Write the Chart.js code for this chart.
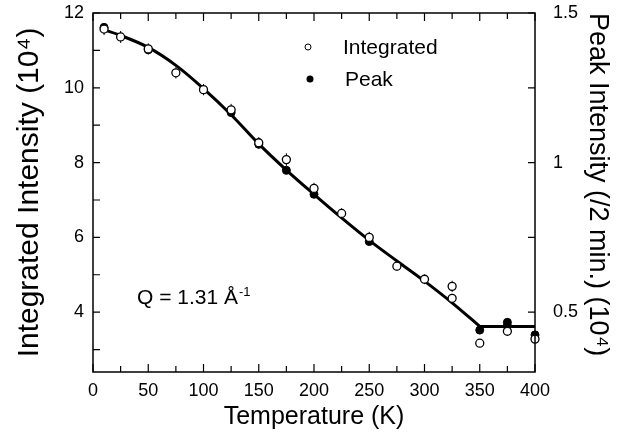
<!DOCTYPE html>
<html>
<head>
<meta charset="utf-8">
<script src="https://cdn.jsdelivr.net/npm/chart.js@4.4.1/dist/chart.umd.min.js"></script>
<style>
  html, body { margin: 0; padding: 0; background: #fff; }
  #wrap { width: 641px; height: 441px; }
</style>
</head>
<body>
<div id="wrap"><canvas id="chart" width="641" height="441"></canvas></div>
<script>
// integrated intensity (open circles), units of 10^4
const intTemps = [10, 25, 50, 75, 100, 125, 150, 175, 200, 225, 250, 275, 300, 325, 325, 350, 375, 400];
const intValues = [11.57, 11.36, 11.04, 10.4, 9.95, 9.41, 8.53, 8.08, 7.31, 6.64, 6.0, 5.23, 4.88, 4.69, 4.37, 3.17, 3.49, 3.28];
const intErrors = [0.16, 0.16, 0.15, 0.15, 0.15, 0.16, 0.15, 0.17, 0.15, 0.14, 0.15, 0.12, 0.13, 0.15, 0.12, 0.1, 0.1, 0.1];

// peak intensity (filled circles), units of 10^4 per 2 min
const peakTemps = [10, 50, 125, 150, 175, 200, 250, 350, 375, 375, 400];
const peakValues = [1.452, 1.377, 1.167, 1.061, 0.974, 0.894, 0.736, 0.44, 0.466, 0.454, 0.424];

// guide line through the data
const fitTemps = [10, 25, 50, 75, 100, 125, 150, 175, 200, 225, 250, 275, 300, 325, 350];
const fitValues = [11.55, 11.4, 11.08, 10.6, 9.98, 9.28, 8.5, 7.8, 7.15, 6.52, 5.92, 5.37, 4.83, 4.25, 3.62];
const flatTemps = [350, 400];
const flatValues = [3.62, 3.62];

const xTicks = [0, 50, 100, 150, 200, 250, 300, 350, 400];
const yTicks = [4, 6, 8, 10, 12];
const y2Ticks = [0.5, 1, 1.5];

const FONT = "'Liberation Sans', Arial, Helvetica, sans-serif";

function pts(xs, ys) {
    return xs.map((x, i) => ({ x: x, y: ys[i] }));
}

// inward tick marks, box frame, error bars, legend and Q label
const decorations = {
    id: 'decorations',
    beforeDatasetsDraw(chart) {
        const ctx = chart.ctx;
        const x = chart.scales.x, y = chart.scales.y;
        const ds = chart.data.datasets[0];
        ctx.save();
        ctx.strokeStyle = '#000';
        ctx.lineWidth = 1;
        ds.data.forEach((p, i) => {
            const px = x.getPixelForValue(p.x);
            ctx.beginPath();
            ctx.moveTo(px, y.getPixelForValue(p.y + intErrors[i]));
            ctx.lineTo(px, y.getPixelForValue(p.y - intErrors[i]));
            ctx.stroke();
        });
        ctx.restore();
    },
    afterDraw(chart) {
        const ctx = chart.ctx;
        const a = chart.chartArea;
        const x = chart.scales.x, y = chart.scales.y, y2 = chart.scales.y2;
        ctx.save();
        ctx.strokeStyle = '#000';
        ctx.lineWidth = 1.5;
        ctx.strokeRect(a.left, a.top, a.right - a.left, a.bottom - a.top);

        ctx.lineWidth = 1.2;
        ctx.beginPath();
        x.ticks.forEach(t => {
            const px = x.getPixelForValue(t.value);
            const len = t.value % 50 === 0 ? 8 : 6;
            ctx.moveTo(px, a.bottom); ctx.lineTo(px, a.bottom - len);
            ctx.moveTo(px, a.top); ctx.lineTo(px, a.top + len);
        });
        y.ticks.forEach(t => {
            if (Math.abs(t.value - Math.round(t.value)) > 1e-6) return;
            const py = y.getPixelForValue(t.value);
            ctx.moveTo(a.left, py); ctx.lineTo(a.left + 7, py);
        });
        y2.ticks.forEach(t => {
            if (Math.abs(t.value * 4 - Math.round(t.value * 4)) > 1e-6) return;
            const py = y2.getPixelForValue(t.value);
            ctx.moveTo(a.right, py); ctx.lineTo(a.right - 7, py);
        });
        ctx.stroke();

        // legend
        ctx.fillStyle = '#000';
        ctx.font = '21px ' + FONT;
        ctx.textBaseline = 'middle';
        ctx.textAlign = 'left';
        const lx = a.left + 215;
        ctx.beginPath();
        ctx.arc(lx, a.top + 34, 3, 0, Math.PI * 2);
        ctx.fillStyle = '#fff';
        ctx.fill();
        ctx.lineWidth = 1;
        ctx.stroke();
        ctx.fillStyle = '#000';
        ctx.beginPath();
        ctx.arc(lx + 2, a.top + 66, 3.5, 0, Math.PI * 2);
        ctx.fill();
        ctx.fillText('Integrated', lx + 35, a.top + 35);
        ctx.fillText('Peak', lx + 37, a.top + 67);

        // Q label
        ctx.font = '21px ' + FONT;
        ctx.fillText('Q = 1.31 \u00C5', a.left + 44, a.top + 285);
        const qw = ctx.measureText('Q = 1.31 \u00C5').width;
        ctx.font = '13px ' + FONT;
        ctx.fillText('-1', a.left + 45 + qw, a.top + 279);
        ctx.restore();
    }
};

function fixV(w) {
    return s => { s.width = w; s.paddingTop = 0; s.paddingBottom = 0; };
}

new Chart(document.getElementById('chart'), {
    type: 'scatter',
    data: {
        datasets: [
            {
                label: 'Integrated',
                data: pts(intTemps, intValues),
                yAxisID: 'y',
                pointStyle: 'circle',
                pointRadius: 4,
                pointBackgroundColor: '#fff',
                pointBorderColor: '#000',
                pointBorderWidth: 1.3,
                showLine: false,
                clip: false
            },
            {
                label: 'Peak',
                data: pts(peakTemps, peakValues),
                yAxisID: 'y2',
                pointStyle: 'circle',
                pointRadius: 4,
                pointBackgroundColor: '#000',
                pointBorderColor: '#000',
                pointBorderWidth: 1,
                showLine: false,
                clip: false
            },
            {
                label: 'fit',
                data: pts(fitTemps, fitValues),
                yAxisID: 'y',
                showLine: true,
                borderColor: '#000',
                borderWidth: 3,
                pointRadius: 0,
                cubicInterpolationMode: 'monotone'
            },
            {
                label: 'flat',
                data: pts(flatTemps, flatValues),
                yAxisID: 'y',
                showLine: true,
                borderColor: '#000',
                borderWidth: 3,
                pointRadius: 0
            }
        ]
    },
    options: {
        responsive: false,
        animation: false,
        devicePixelRatio: 1,
        layout: { padding: { top: 13, left: 0, right: 0, bottom: 0 } },
        plugins: {
            legend: { display: false },
            tooltip: { enabled: false }
        },
        scales: {
            x: {
                type: 'linear',
                position: 'bottom',
                min: 0,
                max: 400,
                grid: { display: false, drawTicks: false },
                border: { display: false },
                afterFit: s => { s.height = 69; s.paddingLeft = 0; s.paddingRight = 0; },
                ticks: {
                    stepSize: 25,
                    autoSkip: false,
                    maxRotation: 0,
                    padding: 8,
                    color: '#000',
                    font: { family: FONT, size: 18 },
                    callback: v => xTicks.includes(v) ? String(v) : ''
                },
                title: {
                    display: true,
                    text: 'Temperature (K)',
                    color: '#000',
                    font: { family: FONT, size: 25 },
                    padding: { top: 0, bottom: 9 }
                }
            },
            y: {
                type: 'linear',
                position: 'left',
                min: 2.4,
                max: 12,
                grid: { display: false, drawTicks: false },
                border: { display: false },
                afterFit: fixV(93),
                ticks: {
                    stepSize: 1,
                    autoSkip: false,
                    padding: 9,
                    color: '#000',
                    font: { family: FONT, size: 18 },
                    callback: v => yTicks.includes(v) ? String(v) : ''
                },
                title: {
                    display: true,
                    text: 'Integrated Intensity (10\u2074)',
                    color: '#000',
                    font: { family: FONT, size: 30 },
                    padding: { top: 12, bottom: 0 }
                }
            },
            y2: {
                type: 'linear',
                position: 'right',
                min: 0.3,
                max: 1.5,
                grid: { display: false, drawTicks: false },
                border: { display: false },
                afterFit: fixV(106),
                ticks: {
                    stepSize: 0.25,
                    autoSkip: false,
                    padding: 18,
                    color: '#000',
                    font: { family: FONT, size: 18 },
                    callback: v => y2Ticks.some(t => Math.abs(t - v) < 1e-6) ? String(v) : ''
                },
                title: {
                    display: true,
                    text: 'Peak Intensity (/2 min.) (10\u2074)',
                    align: 'end',
                    color: '#000',
                    font: { family: FONT, size: 27 },
                    padding: { top: 27, bottom: 0 }
                }
            }
        }
    },
    plugins: [decorations]
});
</script>
</body>
</html>
